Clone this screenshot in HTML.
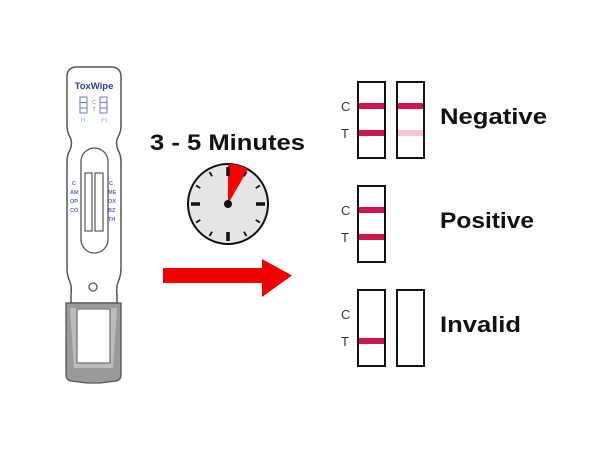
<!DOCTYPE html>
<html><head><meta charset="utf-8"><style>html,body{margin:0;padding:0;background:#fff}svg{display:block}</style></head>
<body>
<svg width="600" height="450" viewBox="0 0 600 450" xmlns="http://www.w3.org/2000/svg" font-family="Liberation Sans, sans-serif">
<!-- device -->
<path d="M77 67 H111 Q121 67 121 77 V125 Q121 132 118 137 Q115 143 118 150 Q121 155 121 162 V268 Q121 276 118 282 Q116 288 117 295 V303 H71 V295 Q72 288 70 282 Q67 276 67 268 V162 Q67 155 70 150 Q73 143 70 137 Q67 132 67 125 V77 Q67 67 77 67 Z" fill="#fff" stroke="#555" stroke-width="1.5"/>
<text x="94" y="89" text-anchor="middle" font-size="9.5" font-weight="bold" fill="#2d3f96">ToxWipe</text>
<g fill="none" stroke="#5a6bb5" stroke-width="0.9">
<rect x="80" y="97" width="7" height="16"/><line x1="80" y1="102.5" x2="87" y2="102.5"/><line x1="80" y1="108" x2="87" y2="108"/>
<rect x="100" y="97" width="7" height="16"/><line x1="100" y1="102.5" x2="107" y2="102.5"/><line x1="100" y1="108" x2="107" y2="108"/>
</g>
<text x="94" y="104" text-anchor="middle" font-size="5" fill="#5a6bb5">C</text>
<text x="94" y="111" text-anchor="middle" font-size="5" fill="#5a6bb5">T</text>
<text x="83" y="121" text-anchor="middle" font-size="4.5" fill="#5a6bb5">(-)</text>
<text x="104" y="121" text-anchor="middle" font-size="4.5" fill="#5a6bb5">(+)</text>
<rect x="81" y="148" width="27" height="105" rx="13.5" fill="#fff" stroke="#555" stroke-width="1.3"/>
<rect x="85" y="173" width="7" height="58" fill="#fff" stroke="#555" stroke-width="1.2"/>
<rect x="95" y="173" width="8" height="58" fill="#fff" stroke="#555" stroke-width="1.2"/>
<g font-size="5.5" fill="#5a6bb5" font-weight="bold">
<text x="72" y="185">C</text><text x="70" y="194">AM</text><text x="70" y="203">OP</text><text x="70" y="212">CO</text>
<text x="109" y="185">C</text><text x="108" y="194">ME</text><text x="108" y="203">OX</text><text x="108" y="212">BZ</text><text x="108" y="221">TH</text>
</g>
<circle cx="93" cy="287" r="4" fill="#fff" stroke="#555" stroke-width="1.3"/>
<path d="M66 303 H121 V375 Q121 380 116 381 L100 383 H87 L71 381 Q66 380 66 375 Z" fill="#9a9a9a" stroke="#555" stroke-width="1.3"/>
<path d="M70 308 H117 L113 368 H74 Z" fill="#bdbdbd"/>
<rect x="77" y="309" width="33" height="54" fill="#fff" stroke="#555" stroke-width="1"/>
<!-- title -->
<text x="150" y="150" font-size="22" font-weight="bold" fill="#111" textLength="155" lengthAdjust="spacingAndGlyphs">3 - 5 Minutes</text>
<!-- clock -->
<circle cx="228" cy="204" r="40" fill="#e6e6e6" stroke="#111" stroke-width="2"/>
<path d="M228 204 L228 164 A40 40 0 0 1 248 169.4 Z" fill="#f00"/>
<g stroke="#111" stroke-width="3.5">
<line x1="228" y1="167" x2="228" y2="176"/><line x1="228" y1="232" x2="228" y2="241"/>
<line x1="191" y1="204" x2="200" y2="204"/><line x1="256" y1="204" x2="265" y2="204"/>
</g>
<g stroke="#111" stroke-width="1.8">
<line x1="246.5" y1="172" x2="244" y2="176.3"/><line x1="260" y1="185.5" x2="255.7" y2="188"/>
<line x1="260" y1="222.5" x2="255.7" y2="220"/><line x1="246.5" y1="236" x2="244" y2="231.7"/>
<line x1="209.5" y1="236" x2="212" y2="231.7"/><line x1="196" y1="222.5" x2="200.3" y2="220"/>
<line x1="196" y1="185.5" x2="200.3" y2="188"/><line x1="209.5" y1="172" x2="212" y2="176.3"/>
</g>
<circle cx="228" cy="204" r="4" fill="#111"/>
<!-- arrow -->
<path d="M163 268 H262 V259 L292 275.5 L262 297 V283 H163 Z" fill="#f10000"/>
<!-- strips -->
<g fill="#fff" stroke="#111" stroke-width="2">
<rect x="358" y="82" width="27" height="76"/><rect x="397" y="82" width="27" height="76"/>
<rect x="358" y="186" width="27" height="76"/>
<rect x="358" y="290" width="27" height="76"/><rect x="397" y="290" width="27" height="76"/>
</g>
<g fill="#d2154a">
<rect x="359" y="103" width="25" height="6"/><rect x="359" y="130" width="25" height="6"/>
<rect x="398" y="103" width="25" height="6"/>
<rect x="359" y="207" width="25" height="6"/><rect x="359" y="234" width="25" height="6"/>
<rect x="359" y="338" width="25" height="6"/>
</g>
<rect x="398" y="130" width="25" height="6" fill="#f6c4d2"/>
<g font-size="13" fill="#333">
<text x="341" y="111">C</text><text x="341" y="138">T</text>
<text x="341" y="215">C</text><text x="341" y="242">T</text>
<text x="341" y="319">C</text><text x="341" y="346">T</text>
</g>
<g font-size="22" font-weight="bold" fill="#111">
<text x="440" y="124" textLength="107" lengthAdjust="spacingAndGlyphs">Negative</text>
<text x="440" y="228" textLength="94" lengthAdjust="spacingAndGlyphs">Positive</text>
<text x="440" y="332" textLength="81" lengthAdjust="spacingAndGlyphs">Invalid</text>
</g>
</svg>
</body></html>
